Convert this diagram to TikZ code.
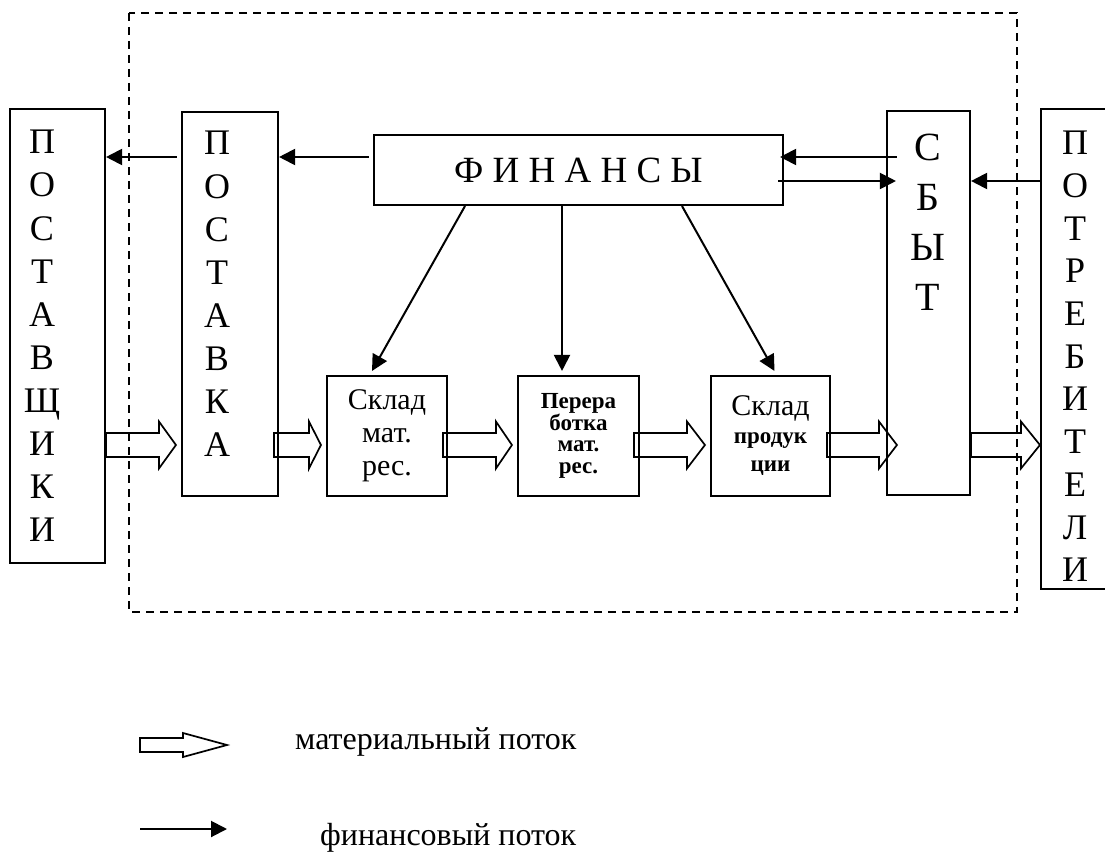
\documentclass[tikz,border=0pt]{standalone}
\usepackage{fontspec}
\setmainfont{Liberation Serif}
\usetikzlibrary{arrows.meta,calc}
\tikzset{
  box/.style={draw, line width=2.1pt, inner sep=0pt},
  vtext/.style={font=\fontsize{36}{43.1}\selectfont, align=center, inner sep=0pt},
  finflow/.style={line width=2pt, -{Triangle[length=16pt,width=16pt]}},
  matline/.style={line width=1.7pt, line join=miter},
  frame/.style={line width=1.8pt, dash pattern=on 8pt off 6pt}
}
\newcommand\hollowarrow[5]{%
  \draw[matline] let \p1=(#1), \p2=(#2) in
    (\x1,\y1-#3) -- (\x2-#5,\y1-#3) -- (\x2-#5,\y1-#4) -- (\x2,\y1)
    -- (\x2-#5,\y1+#4) -- (\x2-#5,\y1+#3) -- (\x1,\y1+#3) -- cycle;}
\begin{document}
\begin{tikzpicture}[x=1pt,y=-1pt]
\clip (0,0) rectangle (1105,853);
\fill[white] (0,0) rectangle (1105,853);

% boxes
\node[box, minimum width=95, minimum height=454] (pst) at (57.5,336) {};
\node[vtext] (pstT) at (42,336) {П\\О\\С\\Т\\А\\В\\Щ\\И\\К\\И};

\node[box, minimum width=96, minimum height=384] (psk) at (230,304) {};
\node[vtext] (pskT) at (217,294) {П\\О\\С\\Т\\А\\В\\К\\А};

\node[box, minimum width=409, minimum height=70, font=\fontsize{37}{40}\selectfont] (fin) at (578.5,170) {Ф И Н А Н С Ы};

\node[box, minimum width=120, minimum height=120, align=center,
      font=\fontsize{30}{33}\selectfont] (skl1) at (387,436) {Склад\\мат.\\рес.};
\node[box, minimum width=121, minimum height=120, align=center,
      font=\bfseries\fontsize{23}{21.5}\selectfont] (prb) at (578.5,436) {Перера\\ботка\\мат.\\рес.};
\node[box, minimum width=119, minimum height=120, align=center,
      font=\bfseries\fontsize{23}{28}\selectfont] (skl2) at (770.5,436)
      {{\mdseries\fontsize{30}{30}\selectfont Склад}\\продук\\ции};

\node[box, minimum width=83, minimum height=384] (sbt) at (928.5,303) {};
\node[vtext, font=\fontsize{40}{50}\selectfont] (sbtT) at (928,222) {С\\Б\\Ы\\Т};

\node[box, minimum width=71, minimum height=480] (ptr) at (1076.5,349) {};
\node[vtext, font=\fontsize{36}{42.7}\selectfont] (ptrT) at (1075,356.5) {П\\О\\Т\\Р\\Е\\Б\\И\\Т\\Е\\Л\\И};

% levels
\coordinate (yA) at (0,157);
\coordinate (yB) at (0,181);
\coordinate (lvl) at (0,445);

% financial flows
\draw[finflow, shorten <=4pt] (fin.west |- yA) -- (psk.east |- yA);
\draw[finflow] ($(psk.west |- yA)+(-4,0)$) -- (pst.east |- yA);
\draw[finflow] ($(sbt.west |- yA)+(11,0)$) -- ($(fin.east |- yA)+(-4,0)$);
\draw[finflow] ($(fin.east |- yB)+(-6,0)$) -- ($(sbt.west |- yB)+(10,0)$);
\draw[finflow] (ptr.west |- yB) -- (sbt.east |- yB);
\draw[finflow] ($(fin.south)+(-113.5,0)$) -- ($(skl1.north)+(-15,-4)$);
\draw[finflow] ($(fin.south)+(-16.5,0)$) -- ($(prb.north)+(-16.5,-4)$);
\draw[finflow] ($(fin.south)+(103.5,0)$) -- ($(skl2.north)+(4,-4)$);

% material flows
\hollowarrow{pst.east |- lvl}{$(psk.west |- lvl)+(-5,0)$}{12pt}{23.5pt}{17pt}
\hollowarrow{$(psk.east |- lvl)+(-5,0)$}{$(skl1.west |- lvl)+(-5,0)$}{12pt}{23.5pt}{12pt}
\hollowarrow{$(skl1.east |- lvl)+(-5,0)$}{$(prb.west |- lvl)+(-5,0)$}{12pt}{23.5pt}{16pt}
\hollowarrow{$(prb.east |- lvl)+(-6,0)$}{$(skl2.west |- lvl)+(-5,0)$}{12pt}{23.5pt}{18pt}
\hollowarrow{$(skl2.east |- lvl)+(-4,0)$}{$(sbt.west |- lvl)+(11,0)$}{12pt}{23.5pt}{18pt}
\hollowarrow{sbt.east |- lvl}{ptr.west |- lvl}{12pt}{23.5pt}{19pt}

% enterprise frame
\draw[frame] (129,13) rectangle (1017,612);

% legend
\coordinate (lgA1) at (140,745);
\coordinate (lgA2) at (227,745);
\coordinate (lgB1) at (140,829);
\coordinate (lgB2) at (227,829);
\hollowarrow{lgA1}{lgA2}{7pt}{12pt}{44pt}
\draw[finflow] (lgB1) -- (lgB2);
\node[anchor=base west, inner sep=0pt, font=\fontsize{32}{34}\selectfont] (lgAT) at (295,749) {материальный поток};
\node[anchor=base west, inner sep=0pt, font=\fontsize{32}{34}\selectfont] (lgBT) at (320,845) {финансовый поток};
\end{tikzpicture}
\end{document}
